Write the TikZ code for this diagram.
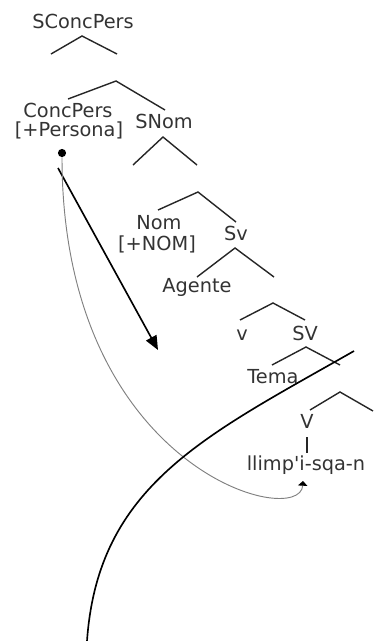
\documentclass[tikz,border=0pt]{standalone}
\usepackage{fontspec}
\setmainfont{DejaVu Sans}
\usetikzlibrary{arrows.meta}
\begin{document}
\begin{tikzpicture}[
    x=0.03cm, y=-0.03cm,
    every node/.style={font=\fontsize{16.5}{18}\selectfont, inner sep=0pt, anchor=base, text=black!80},
    branche/.style={draw, line width=1.2pt, black!85},
    fleche/.style={draw, line width=1.4pt, -{Triangle[length=12pt,width=10pt]}},
    renvoi/.style={draw, line width=0.8pt, gray, -{Triangle[length=4pt,width=8pt,fill=black,color=black]}},
]
\useasboundingbox (0,0) rectangle (376,641);

% Etiquettes de l'arbre
\node (sconc) at (83,28) {SConcPers};
\node (conc) at (68,117) {ConcPers};
\node (persona) at (69,136) {[+Persona]};
\node (snom) at (164,128) {SNom};
\node (nom) at (159,229) {Nom};
\node (nomcas) at (157,250) {[+NOM]};
\node (sv) at (236,240) {Sv};
\node (agente) at (197,292) {Agente};
\node (v) at (242,340) {v};
\node (SV) at (305,340) {SV};
\node (tema) at (273,383) {Tema};
\node (V) at (307,428) {V};
\node (llimp) at (306,470) {llimp\textquotesingle i-sqa-n};

% Branches
\foreach \xa/\ya/\xb/\yb/\xc/\yc in {
    51/54/82/36/117/54, 68/99/116/81/165/110,
    133/165/163/137/197/165, 158/210/198/192/236/222,
    197/277/235/248/274/277, 240/320/273/303/305/320,
    272/365/306/347/340/365, 310/410/340/392/373/411}
    \draw[branche] (\xa,\ya) -- (\xb,\yb) -- (\xc,\yc);
\draw[branche] (V.south) ++(0,9) -- ++(0,16);

% Deplacements
\node[circle, fill=black, minimum size=7pt, anchor=center] (point) at (62,153) {};
\coordinate (depart) at (58,168);
\coordinate (arrivee) at (158,350);
\coordinate (cible) at (303,481);
\coordinate (haut) at (354,351);
\coordinate (bas) at (87,641);
\draw[fleche] (depart) -- (arrivee);
\draw[renvoi] (point) .. controls (62,470) and (300,530) .. (cible);
\draw[line width=1.4pt] (haut) .. controls (205,436) and (98,485) .. (bas);

\end{tikzpicture}
\end{document}
